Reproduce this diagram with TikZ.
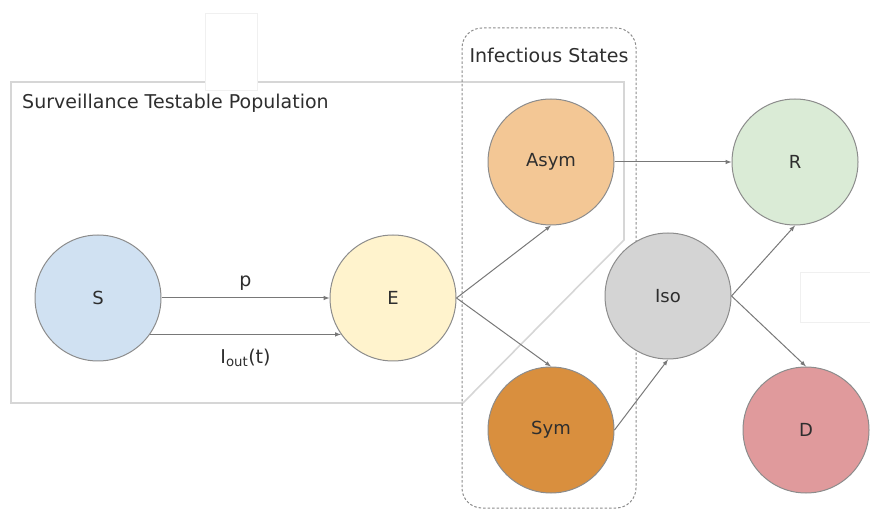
\documentclass[tikz,border=0pt]{standalone}
\usepackage{fontspec}
\setmainfont{DejaVu Sans}
\usetikzlibrary{positioning}
\definecolor{sblue}{HTML}{D0E1F2}
\definecolor{eyellow}{HTML}{FFF3CD}
\definecolor{asymorange}{HTML}{F3C795}
\definecolor{symorange}{HTML}{D98F3E}
\definecolor{isogray}{HTML}{D4D4D4}
\definecolor{rgreen}{HTML}{DAEBD6}
\definecolor{dred}{HTML}{E09A9C}
\definecolor{edgegray}{HTML}{8C8C8C}
\definecolor{arrowgray}{HTML}{787878}
\definecolor{boxgray}{HTML}{D6D6D6}
\definecolor{textgray}{HTML}{2E2E2E}
\begin{document}
\begin{tikzpicture}[x=1pt,y=-1pt,
    state/.style={circle,draw=edgegray,line width=1pt,minimum size=126pt,inner sep=0pt,
                  text=textgray,font=\fontsize{18}{21}\selectfont},
    flow/.style={->,>=latex,draw=arrowgray,line width=1pt},
    title/.style={text=textgray,font=\fontsize{19}{22}\selectfont,inner sep=0pt}]
                \useasboundingbox (0,0) rectangle (870,510);
                % surveillance box
                \draw[boxgray,line width=1.6pt] (11,403) -- (11,82) -- (624,82) -- (624,240) -- (463,403) -- cycle;
                \node[title,anchor=west](SURV) at (22,103) {Surveillance Testable Population};
                % infectious states
                \draw[edgegray,line width=1pt,dash pattern=on 2.5pt off 2pt,rounded corners=20pt] (462,28) rectangle (636,508);
                \node[title](INF) at (549,55) {Infectious States};
                % white patches
                \draw[gray!12,fill=white] (205,13) rectangle (257,90);
                \draw[gray!12,fill=white] (800,272) rectangle (872,322);
                % states
                \node[state,fill=sblue](S) at (98,298) {S};
                \node[state,fill=eyellow](E) at (393,298) {E};
                \node[state,fill=asymorange](ASYM) at (551,162) {Asym};
                \node[state,fill=symorange](SYM) at (551,430) {Sym};
                \node[state,fill=isogray](ISO) at (668,296) {Iso};
                \node[state,fill=rgreen](R) at (795,162) {R};
                \node[state,fill=dred](D) at (806,430) {D};
                % flows
                \draw[flow] (S.east) -- (E.west) node[midway,above=7pt,title]{p};
                \draw[flow] (S.-35) -- (E.-145) node[midway,below=14pt,title]{I\textsubscript{out}(t)};
                \draw[flow] (E.east) -- (ASYM.south);
                \draw[flow] (E.east) -- (SYM.north);
                \draw[flow] (ASYM.east) -- (R.west);
                \draw[flow] (SYM.east) -- (ISO.south);
                \draw[flow] (ISO.east) -- (R.south);
                \draw[flow] (ISO.east) -- (D.north);
            \end{tikzpicture}
\end{document}
